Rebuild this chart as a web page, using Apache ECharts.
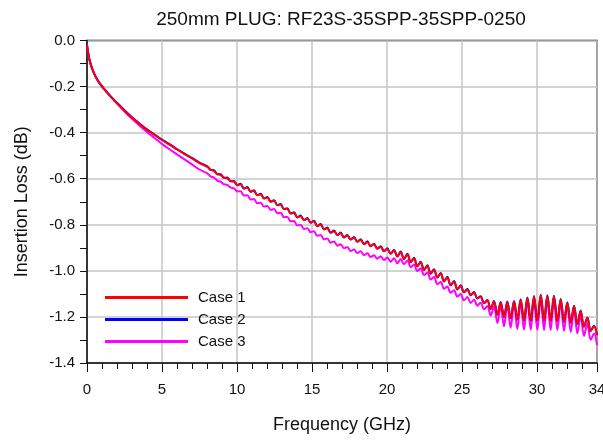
<!DOCTYPE html>
<html>
<head>
<meta charset="utf-8">
<script src="https://cdn.jsdelivr.net/npm/echarts@6/dist/echarts.min.js"></script>
<style>
html,body{margin:0;padding:0;background:#fff;}
#chart{width:603px;height:440px;}
</style>
</head>
<body>
<div id="chart"></div>
<script>
var chartTitle = '250mm PLUG: RF23S-35SPP-35SPP-0250';
var seriesNames = ['Case 1', 'Case 2', 'Case 3'];
var seriesColors = ['#ff0000', '#0000ff', '#ff00ff'];

var freqGHz = [
  0, 0.05, 0.15, 0.3, 0.5, 0.75, 1, 1.5, 2, 2.5, 3, 3.5, 4, 4.5, 5, 5.5, 6, 6.5, 7, 7.5,
  8.02, 8.24, 8.46, 8.69, 8.91, 9.13, 9.35, 9.58, 9.80, 10.02,
  10.24, 10.46, 10.69, 10.91, 11.13, 11.35, 11.58, 11.80, 12.02, 12.24,
  12.47, 12.69, 12.91, 13.13, 13.35, 13.58, 13.80, 14.02, 14.24, 14.47,
  14.69, 14.91, 15.13, 15.35, 15.58, 15.80, 16.02, 16.24, 16.47, 16.69,
  16.91, 17.13, 17.35, 17.58, 17.80, 18.02, 18.24, 18.47, 18.69, 18.91,
  19.13, 19.35, 19.58, 19.80, 20.02, 20.24, 20.47, 20.69, 20.91, 21.13,
  21.36, 21.58, 21.80, 22.02, 22.24, 22.47, 22.69, 22.91, 23.13, 23.36,
  23.58, 23.80, 24.02, 24.24, 24.47, 24.69, 24.91, 25.13, 25.36, 25.58,
  25.80, 26.02, 26.24, 26.47, 26.69, 26.91, 27.13, 27.36, 27.58, 27.80,
  28.02, 28.24, 28.47, 28.69, 28.91, 29.13, 29.36, 29.58, 29.80, 30.02,
  30.25, 30.47, 30.69, 30.91, 31.13, 31.36, 31.58, 31.80, 32.02, 32.25,
  32.47, 32.69, 32.91, 33.13, 33.36, 33.58, 33.80, 34.0
];

var case1 = [
  -0.02, -0.045, -0.08, -0.115, -0.148, -0.178, -0.2, -0.238, -0.272, -0.305, -0.335, -0.362, -0.388, -0.41, -0.432, -0.452, -0.473, -0.493, -0.512, -0.532,
  -0.549, -0.561, -0.566, -0.580, -0.584, -0.595, -0.598, -0.610, -0.613, -0.627,
  -0.625, -0.642, -0.639, -0.656, -0.653, -0.671, -0.668, -0.685, -0.682, -0.699,
  -0.696, -0.714, -0.713, -0.732, -0.731, -0.750, -0.749, -0.767, -0.763, -0.779,
  -0.774, -0.790, -0.785, -0.805, -0.800, -0.819, -0.815, -0.834, -0.828, -0.844,
  -0.837, -0.854, -0.847, -0.863, -0.856, -0.873, -0.866, -0.883, -0.875, -0.892,
  -0.885, -0.903, -0.896, -0.914, -0.905, -0.925, -0.912, -0.937, -0.919, -0.948,
  -0.929, -0.962, -0.946, -0.979, -0.963, -0.995, -0.979, -1.012, -0.996, -1.028,
  -1.012, -1.045, -1.029, -1.062, -1.047, -1.080, -1.066, -1.092, -1.082, -1.105,
  -1.095, -1.119, -1.113, -1.140, -1.129, -1.165, -1.134, -1.189, -1.138, -1.199,
  -1.136, -1.205, -1.134, -1.210, -1.126, -1.214, -1.119, -1.215, -1.112, -1.215,
  -1.107, -1.215, -1.109, -1.215, -1.111, -1.217, -1.125, -1.220, -1.139, -1.224,
  -1.155, -1.230, -1.175, -1.242, -1.205, -1.260, -1.241, -1.280
];

var case2 = [
  -0.019, -0.044, -0.079, -0.114, -0.147, -0.177, -0.199, -0.237, -0.270, -0.303, -0.333, -0.360, -0.386, -0.408, -0.430, -0.450, -0.471, -0.491, -0.510, -0.530,
  -0.546, -0.562, -0.563, -0.581, -0.581, -0.596, -0.595, -0.611, -0.610, -0.628,
  -0.622, -0.643, -0.636, -0.657, -0.650, -0.672, -0.665, -0.686, -0.679, -0.700,
  -0.693, -0.715, -0.710, -0.733, -0.728, -0.751, -0.746, -0.768, -0.760, -0.780,
  -0.771, -0.791, -0.782, -0.806, -0.797, -0.820, -0.812, -0.835, -0.825, -0.845,
  -0.834, -0.855, -0.844, -0.864, -0.853, -0.874, -0.863, -0.884, -0.872, -0.893,
  -0.882, -0.904, -0.893, -0.915, -0.902, -0.926, -0.909, -0.938, -0.916, -0.949,
  -0.926, -0.963, -0.943, -0.980, -0.960, -0.996, -0.976, -1.013, -0.993, -1.029,
  -1.009, -1.046, -1.026, -1.063, -1.044, -1.081, -1.063, -1.093, -1.079, -1.106,
  -1.092, -1.120, -1.110, -1.141, -1.126, -1.166, -1.131, -1.190, -1.135, -1.200,
  -1.133, -1.206, -1.131, -1.211, -1.123, -1.215, -1.116, -1.216, -1.109, -1.216,
  -1.104, -1.216, -1.106, -1.216, -1.108, -1.218, -1.122, -1.221, -1.136, -1.225,
  -1.152, -1.231, -1.172, -1.243, -1.202, -1.261, -1.238, -1.278
];

var case3 = [
  -0.018, -0.043, -0.078, -0.113, -0.146, -0.176, -0.198, -0.237, -0.274, -0.308, -0.34, -0.369, -0.397, -0.423, -0.449, -0.472, -0.494, -0.516, -0.538, -0.560,
  -0.577, -0.590, -0.595, -0.608, -0.613, -0.624, -0.627, -0.639, -0.642, -0.655,
  -0.654, -0.673, -0.672, -0.690, -0.688, -0.707, -0.704, -0.721, -0.718, -0.735,
  -0.732, -0.750, -0.748, -0.767, -0.766, -0.785, -0.784, -0.803, -0.800, -0.818,
  -0.815, -0.832, -0.828, -0.848, -0.844, -0.863, -0.859, -0.878, -0.873, -0.891,
  -0.884, -0.902, -0.896, -0.914, -0.907, -0.923, -0.915, -0.932, -0.924, -0.940,
  -0.932, -0.947, -0.938, -0.953, -0.942, -0.960, -0.945, -0.967, -0.949, -0.971,
  -0.955, -0.984, -0.972, -1.001, -0.989, -1.018, -1.007, -1.037, -1.027, -1.058,
  -1.048, -1.078, -1.068, -1.095, -1.084, -1.112, -1.100, -1.128, -1.114, -1.139,
  -1.125, -1.151, -1.138, -1.167, -1.153, -1.194, -1.156, -1.226, -1.153, -1.241,
  -1.148, -1.247, -1.143, -1.253, -1.136, -1.255, -1.130, -1.256, -1.126, -1.256,
  -1.123, -1.257, -1.124, -1.256, -1.125, -1.257, -1.136, -1.261, -1.147, -1.265,
  -1.167, -1.272, -1.193, -1.283, -1.230, -1.299, -1.272, -1.322
];

var xMin = 0, xMax = 34, xStep = 5;
var yMin = -1.4, yMax = 0, yStep = 0.2;

function pairs(ys) {
  return freqGHz.map(function (f, i) { return [f, ys[i]]; });
}

var FONT = 'Liberation Sans, Arial, Helvetica, sans-serif';
var chart = echarts.init(document.getElementById('chart'), null, {renderer: 'canvas'});

function mkSeries(name, color, ys) {
  return {
    name: name, type: 'line', data: pairs(ys), showSymbol: false, symbol: 'none',
    smooth: 0.35, lineStyle: {color: color, width: 2}, itemStyle: {color: color},
    animation: false
  };
}

chart.setOption({
  animation: false,
  backgroundColor: '#ffffff',
  title: {
    text: chartTitle, left: 336, top: 5, textAlign: 'center',
    textStyle: {fontFamily: FONT, fontSize: 19, fontWeight: 'normal', color: '#111'}
  },
  grid: {
    left: 87, right: 6, top: 40.5, bottom: 77, show: true,
    outerBoundsMode: 'none', containLabel: false,
    borderColor: '#111', borderWidth: 1.5, backgroundColor: 'transparent'
  },
  legend: {
    orient: 'vertical', left: 100, top: 285, itemWidth: 83, itemHeight: 3, itemGap: 7,
    icon: 'rect', data: seriesNames,
    textStyle: {fontFamily: FONT, fontSize: 15, color: '#111', padding: [0, 0, 0, 5]}
  },
  xAxis: {
    type: 'value', min: xMin, max: xMax, interval: xStep,
    name: 'Frequency (GHz)', nameLocation: 'middle', nameGap: 53,
    nameTextStyle: {fontFamily: FONT, fontSize: 18, color: '#111'},
    axisLine: {show: true, onZero: false, lineStyle: {color: '#111', width: 1.5}},
    axisTick: {show: true, length: 9, lineStyle: {color: '#111', width: 1}},
    minorTick: {show: true, splitNumber: 5, length: 6, lineStyle: {color: '#111', width: 1}},
    axisLabel: {fontFamily: FONT, fontSize: 15, color: '#111', margin: 19, showMaxLabel: true},
    splitLine: {show: true, lineStyle: {color: '#c4c4c4', width: 1.5}}
  },
  yAxis: {
    type: 'value', min: yMin, max: yMax, interval: yStep,
    name: 'Insertion Loss (dB)', nameLocation: 'middle', nameGap: 56,
    nameTextStyle: {fontFamily: FONT, fontSize: 18, color: '#111'},
    axisLine: {show: true, onZero: false, lineStyle: {color: '#111', width: 1.5}},
    axisTick: {show: true, length: 7, lineStyle: {color: '#111', width: 1}},
    minorTick: {show: true, splitNumber: 2, length: 7, lineStyle: {color: '#111', width: 1}},
    axisLabel: {fontFamily: FONT, fontSize: 15, color: '#111', margin: 12,
      formatter: function (v) { var s = v.toFixed(1); return s === '-0.0' ? '0.0' : s; }},
    splitLine: {show: true, lineStyle: {color: '#c4c4c4', width: 1.5}}
  },
  series: [
    mkSeries(seriesNames[2], seriesColors[2], case3),
    mkSeries(seriesNames[1], seriesColors[1], case2),
    mkSeries(seriesNames[0], seriesColors[0], case1)
  ]
});
</script>
</body>
</html>
